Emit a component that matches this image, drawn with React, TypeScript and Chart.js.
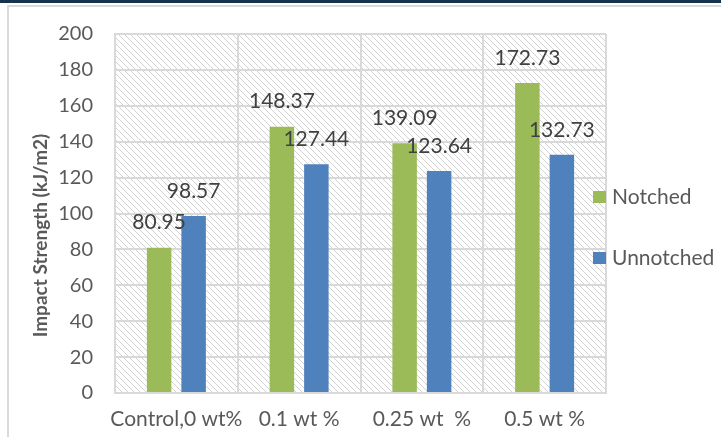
import React, { useEffect, useRef } from 'react';
import { Chart, registerables } from 'chart.js';

Chart.register(...registerables);

// ---- data ----
const categories = ['Control,0 wt%', '0.1 wt %', '0.25 wt  %', '0.5 wt %'];
const notched = [80.95, 148.37, 139.09, 172.73];
const unnotched = [98.57, 127.44, 123.64, 132.73];
const seriesNames = ['Notched', 'Unnotched'];
const yTitle = 'Impact Strength (kJ/m2)';
const yMin = 0;
const yMax = 200;
const yStep = 20;

// ---- style ----
const FONT = 'Lato, "Open Sans", "Liberation Sans", sans-serif';
const GREEN = '#9bbb59';
const BLUE = '#4f81bd';
const GRID = '#d9d9d9';
const TEXT = '#595959';
const LABEL = '#404040';

export default function App() {
  const ref = useRef<HTMLCanvasElement>(null);

  useEffect(() => {
    document.body.style.margin = '0';
    const canvas = ref.current!;

    const tile = document.createElement('canvas');
    tile.width = 6;
    tile.height = 6;
    const tctx = tile.getContext('2d')!;
    tctx.fillStyle = 'rgb(210,210,210)';
    for (let i = 0; i < 6; i++) tctx.fillRect(i, i, 1, 1);

    const backdrop = {
      id: 'backdrop',
      beforeDraw(chart: any) {
        const { ctx, chartArea: a, width, height } = chart;
        ctx.save();
        ctx.fillStyle = '#ffffff';
        ctx.fillRect(0, 0, width, height);
        // top dark band
        ctx.fillStyle = '#17324d';
        ctx.fillRect(0, 0, width, 3);
        // outer light border
        ctx.strokeStyle = GRID;
        ctx.lineWidth = 2;
        ctx.beginPath();
        ctx.moveTo(8, height + 2);
        ctx.lineTo(8, 6);
        ctx.lineTo(width + 2, 6);
        ctx.stroke();
        // hatch
        const pat = ctx.createPattern(tile, 'repeat');
        ctx.fillStyle = pat;
        ctx.fillRect(a.left, a.top, a.right - a.left, a.bottom - a.top);
        ctx.restore();
      },
    };

    const overlay = {
      id: 'overlay',
      afterDatasetsDraw(chart: any) {
        const { ctx } = chart;
        ctx.save();
        ctx.font = `21px ${FONT}`;
        ctx.fillStyle = LABEL;
        ctx.textAlign = 'center';
        ctx.textBaseline = 'middle';
        chart.data.datasets.forEach((ds: any, di: number) => {
          const meta = chart.getDatasetMeta(di);
          meta.data.forEach((el: any, i: number) => {
            ctx.fillText(Number(ds.data[i]).toFixed(2), el.x, el.y - 25);
          });
        });
        ctx.restore();
      },
      afterDraw(chart: any) {
        const { ctx, chartArea: a } = chart;
        ctx.save();
        // y title
        ctx.translate(47, (a.top + a.bottom) / 2 + 22);
        ctx.rotate(-Math.PI / 2);
        ctx.font = `bold 19px ${FONT}`;
        ctx.fillStyle = TEXT;
        ctx.textAlign = 'center';
        ctx.textBaseline = 'alphabetic';
        ctx.fillText(yTitle, 0, 0);
        ctx.restore();

        // legend
        ctx.save();
        ctx.font = `21px ${FONT}`;
        ctx.textAlign = 'left';
        ctx.textBaseline = 'middle';
        const colors = [GREEN, BLUE];
        const ys = [197, 258];
        seriesNames.forEach((n, i) => {
          ctx.fillStyle = colors[i];
          ctx.fillRect(a.right - 13, ys[i] - 6, 13, 12);
          ctx.fillStyle = TEXT;
          ctx.fillText(n, a.right + 6, ys[i]);
        });
        ctx.restore();
      },
    };

    const chart = new Chart(canvas, {
      type: 'bar',
      data: {
        labels: categories,
        datasets: [
          { label: seriesNames[0], data: notched, backgroundColor: GREEN, categoryPercentage: 0.562, barPercentage: 0.71 },
          { label: seriesNames[1], data: unnotched, backgroundColor: BLUE, categoryPercentage: 0.562, barPercentage: 0.71 },
        ],
      },
      options: {
        responsive: false,
        animation: false,
        events: [],
        layout: { padding: { top: 26, right: 115, left: 0, bottom: 0 } },
        plugins: { legend: { display: false }, tooltip: { enabled: false } },
        scales: {
          x: {
            grid: { color: GRID, lineWidth: 2, drawTicks: false, offset: true },
            border: { color: GRID, width: 2 },
            ticks: { color: TEXT, font: { family: FONT, size: 21 }, padding: 14, maxRotation: 0, autoSkip: false },
            afterFit: (s: any) => { s.height = 437 - 393; },
          },
          y: {
            min: yMin,
            max: yMax,
            grid: { color: GRID, lineWidth: 2, drawTicks: false },
            border: { color: GRID, width: 2 },
            ticks: { stepSize: yStep, color: TEXT, font: { family: FONT, size: 20 }, padding: 22 },
            afterFit: (s: any) => { s.width = 115; },
          },
        },
      },
      plugins: [backdrop, overlay],
    });

    return () => chart.destroy();
  }, []);

  return (
    <div style={{ width: 721, height: 437 }}>
      <canvas ref={ref} width={721} height={437} style={{ display: 'block' }} />
    </div>
  );
}
